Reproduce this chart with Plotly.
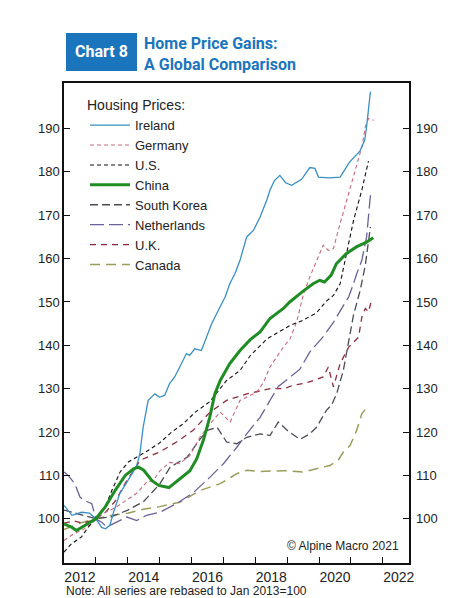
import plotly.graph_objects as go

# ---------------- data (decimal years, index Jan 2013 = 100) ----------------
ireland_x = [2012.0, 2012.25, 2012.55, 2012.8, 2013.0, 2013.18, 2013.3, 2013.44, 2013.54, 2013.75, 2014.0,
             2014.27, 2014.38, 2014.48, 2014.64, 2014.85, 2015.0, 2015.16, 2015.31, 2015.47, 2015.63, 2015.84,
             2015.94, 2016.1, 2016.31, 2016.47, 2016.63, 2016.84, 2017.05, 2017.2, 2017.36, 2017.52, 2017.73,
             2017.94, 2018.15, 2018.36, 2018.46, 2018.6, 2018.77, 2018.95, 2019.14, 2019.45, 2019.71, 2019.87,
             2019.98, 2020.3, 2020.66, 2020.96, 2021.28, 2021.43, 2021.49, 2021.61]
ireland_y = [103.1, 100.8, 101.5, 101.3, 100.0, 98.0, 97.7, 98.5, 101.2, 105.8, 108.8,
             112.0, 115.0, 121.0, 127.3, 128.8, 128.0, 128.5, 131.2, 132.7, 135.0, 138.1,
             137.7, 139.2, 138.8, 141.9, 145.0, 148.1, 151.1, 154.2, 156.5, 159.6, 165.0,
             166.5, 169.6, 173.5, 175.8, 178.0, 179.2, 177.5, 176.9, 178.3, 181.0, 180.8,
             178.8, 178.6, 178.8, 182.3, 184.8, 187.3, 190.4, 198.5]

germany_x = [2012.0, 2012.3, 2012.6, 2012.85, 2013.0, 2013.3, 2013.6, 2014.0, 2014.3, 2014.6, 2014.8, 2015.0,
             2015.32, 2015.63, 2015.95, 2016.26, 2016.58, 2016.9, 2017.21, 2017.52, 2018.05, 2018.26, 2018.46,
             2018.88, 2019.09, 2019.3, 2019.5, 2019.71, 2019.92, 2020.13, 2020.29, 2020.45, 2020.66, 2020.87,
             2021.08, 2021.24, 2021.35, 2021.45, 2021.55, 2021.71]
germany_y = [95.0, 96.5, 97.5, 98.8, 100.0, 101.5, 102.5, 104.5, 106.0, 108.5, 108.8, 111.0,
             113.0, 112.7, 114.6, 118.8, 121.9, 124.6, 122.3, 127.3, 129.2, 131.5, 135.0,
             139.6, 141.5, 145.5, 151.5, 155.8, 159.6, 163.1, 161.9, 162.3, 168.1, 173.5,
             178.8, 182.7, 186.0, 190.4, 192.3, 191.9]

us_x = [2012.0, 2012.23, 2012.55, 2012.76, 2013.0, 2013.29, 2013.5, 2013.76, 2014.02, 2014.39, 2014.65, 2015.0,
        2015.38, 2015.74, 2016.1, 2016.57, 2017.1, 2017.52, 2017.85, 2018.37, 2018.7, 2019.09, 2019.5, 2019.92,
        2020.23, 2020.45, 2020.66, 2020.87, 2021.08, 2021.34, 2021.55]
us_y = [92.3, 94.2, 95.8, 98.1, 100.0, 102.7, 106.5, 110.8, 113.1, 114.6, 115.8, 117.5,
        120.0, 121.9, 124.5, 127.0, 131.9, 134.2, 137.7, 141.5, 143.0, 144.6, 145.8, 147.5,
        150.2, 151.5, 154.2, 161.9, 168.8, 175.8, 182.5]

china_x = [2012.0, 2012.23, 2012.39, 2012.65, 2013.0, 2013.29, 2013.6, 2013.92, 2014.18, 2014.34, 2014.5, 2014.76,
           2014.97, 2015.29, 2015.63, 2015.95, 2016.16, 2016.37, 2016.57, 2016.73, 2016.9, 2017.2, 2017.52, 2017.84,
           2018.15, 2018.46, 2018.88, 2019.08, 2019.5, 2019.81, 2020.02, 2020.17, 2020.38, 2020.54, 2020.86,
           2021.17, 2021.49, 2021.7]
china_y = [98.8, 98.1, 97.3, 98.5, 100.0, 102.7, 106.5, 110.0, 111.5, 111.9, 111.2, 108.8,
           107.7, 107.2, 109.2, 111.1, 113.8, 118.1, 123.4, 128.8, 131.9, 135.8, 138.8, 141.3,
           143.1, 146.2, 148.5, 150.0, 152.5, 154.2, 155.0, 154.6, 156.2, 158.8, 161.2,
           162.7, 163.8, 164.8]

korea_x = [2012.0, 2012.5, 2013.0, 2013.5, 2014.0, 2014.5, 2015.0, 2015.33, 2015.86, 2016.28, 2016.49, 2016.8,
           2017.1, 2017.42, 2017.73, 2018.15, 2018.46, 2018.72, 2019.0, 2019.4, 2019.71, 2019.92, 2020.23,
           2020.39, 2020.55, 2020.76, 2020.92, 2021.08, 2021.29, 2021.45, 2021.61]
korea_y = [102.0, 101.0, 100.0, 100.5, 102.0, 104.0, 108.0, 111.9, 114.2, 118.5, 120.4, 121.1,
           117.7, 117.3, 118.8, 119.6, 119.2, 122.3, 120.4, 118.3, 119.6, 121.1, 125.0,
           126.2, 128.8, 134.2, 141.0, 147.0, 152.7, 158.5, 167.3]

neth_x = [2012.0, 2012.13, 2012.34, 2012.5, 2012.65, 2012.87, 2013.0, 2013.18, 2013.34, 2013.6, 2013.97, 2014.28,
          2014.59, 2015.01, 2015.53, 2016.05, 2016.58, 2017.0, 2017.42, 2017.73, 2018.15, 2018.46, 2018.72,
          2018.98, 2019.4, 2019.71, 2020.13, 2020.45, 2020.76, 2020.93, 2021.08, 2021.18, 2021.34, 2021.49,
          2021.61]
neth_y = [110.8, 110.0, 108.1, 105.0, 104.2, 103.5, 100.0, 99.2, 98.1, 99.0, 100.4, 99.6,
          100.8, 101.5, 103.5, 106.0, 109.6, 112.7, 116.5, 119.6, 123.4, 127.3, 130.5,
          132.0, 134.5, 138.5, 142.0, 145.3, 149.0, 151.2, 154.2, 156.5, 159.6, 165.0,
          174.6]

uk_x = [2012.0, 2012.3, 2012.6, 2012.85, 2013.0, 2013.3, 2013.6, 2013.97, 2014.39, 2014.7, 2015.0, 2015.53,
        2016.05, 2016.58, 2017.1, 2017.73, 2018.46, 2018.9, 2019.19, 2019.5, 2019.8, 2020.13, 2020.29, 2020.45,
        2020.66, 2020.93, 2021.08, 2021.24, 2021.34, 2021.45, 2021.55, 2021.63]
uk_y = [99.0, 99.5, 99.0, 99.5, 100.0, 101.5, 104.0, 108.8, 113.5, 114.5, 115.4, 117.7,
        120.4, 124.6, 127.3, 128.8, 130.0, 130.0, 130.8, 131.2, 131.8, 132.7, 135.0, 130.4,
        135.8, 139.6, 140.8, 141.9, 146.5, 148.5, 147.7, 150.0]

canada_x = [2012.0, 2012.5, 2013.0, 2013.5, 2014.0, 2014.5, 2015.0, 2015.63, 2016.26, 2016.9, 2017.42, 2017.73,
            2018.16, 2018.88, 2019.51, 2019.93, 2020.34, 2020.6, 2020.76, 2020.97, 2021.18, 2021.34, 2021.55]
canada_y = [97.5, 99.0, 100.0, 100.8, 101.3, 102.2, 102.8, 103.8, 106.5, 108.1, 110.4, 111.2,
            110.9, 111.1, 110.8, 111.5, 112.3, 113.5, 115.4, 116.9, 120.4, 124.2, 126.2]

series_names = ["Ireland", "Germany", "U.S.", "China", "South Korea", "Netherlands", "U.K.", "Canada"]
year_labels = ["2012", "2014", "2016", "2018", "2020", "2022"]
y_ticks = [100, 110, 120, 130, 140, 150, 160, 170, 180, 190]

# ---------------- styling ----------------
OFF = 8  # page body margin in the browser
W, H = 475 - OFF, 598 - OFF
ML, MR, MT, MB = 64 - OFF, 66, 83 - OFF, 35
PW, PH = W - ML - MR, H - MT - MB
FONT = "Liberation Sans, Arial, sans-serif"
BLUE = "#1b75bc"

def px(x):
    return (x - OFF - ML) / PW

def py(y):
    return (H - MB - (y - OFF)) / PH

styles = [
    dict(color="#3a8fc4", width=1.3, dash="solid"),
    dict(color="#c86a7c", width=1.1, dash="4px,3px"),
    dict(color="#111111", width=1.1, dash="4px,3px"),
    dict(color="#1f8c24", width=3.0, dash="solid"),
    dict(color="#4a4a58", width=1.3, dash="8px,4px"),
    dict(color="#6c5f9c", width=1.3, dash="14px,5px"),
    dict(color="#8e2a3c", width=1.3, dash="6px,5px"),
    dict(color="#9c9c5a", width=1.5, dash="10px,6px"),
]
xs = [ireland_x, germany_x, us_x, china_x, korea_x, neth_x, uk_x, canada_x]
ys = [ireland_y, germany_y, us_y, china_y, korea_y, neth_y, uk_y, canada_y]

fig = go.Figure()
draw_order = [7, 6, 5, 4, 1, 2, 0, 3]
for i in draw_order:
    fig.add_trace(go.Scatter(x=xs[i], y=ys[i], name=series_names[i], mode="lines",
                             line=styles[i], legendrank=i + 1))

# dummy trace for right axis
fig.add_trace(go.Scatter(x=[2012], y=[100], yaxis="y2", mode="markers",
                         marker=dict(opacity=0), showlegend=False, hoverinfo="skip"))

mid_years = [int(s) + 0.5 for s in year_labels]
fig.update_layout(
    width=W, height=H,
    margin=dict(l=ML, r=MR, t=MT, b=MB),
    paper_bgcolor="white", plot_bgcolor="white",
    font=dict(family=FONT, size=13, color="#222"),
    showlegend=True,
    legend=dict(x=px(85), y=py(92), xanchor="left", yanchor="top",
                bgcolor="rgba(0,0,0,0)", borderwidth=0,
                font=dict(size=13, family=FONT, color="#222"),
                title=dict(text="Housing Prices:", font=dict(size=14, family=FONT, color="#222"), side="top"),
                tracegroupgap=0, itemwidth=40),
    xaxis=dict(range=[2012.0, 2022.82], tickmode="array", tickvals=mid_years, ticktext=year_labels,
               ticks="", showgrid=False, zeroline=False, showline=True, linecolor="#111", linewidth=1.5,
               mirror=True, automargin=False, tickfont=dict(size=14), ticklabelstandoff=0,
               minor=dict(tickmode="array", tickvals=list(range(2013, 2023)), ticks="inside",
                          ticklen=6, tickcolor="#111", tickwidth=1, showgrid=False)),
    yaxis=dict(range=[89.8, 200.5], tickmode="array", tickvals=y_ticks, ticks="inside", ticklen=6,
               tickcolor="#111", showgrid=False, zeroline=False, showline=True, linecolor="#111",
               linewidth=1.5, mirror=True, automargin=False, tickfont=dict(size=13), ticklabelstandoff=0),
    yaxis2=dict(range=[89.8, 200.5], overlaying="y", side="right", tickmode="array", tickvals=y_ticks,
                ticks="inside", ticklen=6, tickcolor="#111", showgrid=False, zeroline=False,
                showline=False, automargin=False, tickfont=dict(size=13), ticklabelstandoff=6),
)

# title block
fig.add_shape(type="rect", xref="paper", yref="paper", x0=px(66), x1=px(137), y0=py(71), y1=py(33),
              fillcolor=BLUE, line=dict(width=0), layer="above")
fig.add_annotation(text="<b>Chart 8</b>", xref="paper", yref="paper", x=px(101.5), y=py(52),
                   xanchor="center", yanchor="middle", showarrow=False,
                   font=dict(family="Roboto, Arial, sans-serif", size=16, color="white"))
fig.add_annotation(text="<b>Home Price Gains:</b>", xref="paper", yref="paper", x=px(142), y=py(43),
                   xanchor="left", yanchor="middle", showarrow=False,
                   font=dict(family="Roboto, Arial, sans-serif", size=16, color=BLUE))
fig.add_annotation(text="<b>A Global Comparison</b>", xref="paper", yref="paper", x=px(142), y=py(65),
                   xanchor="left", yanchor="middle", showarrow=False,
                   font=dict(family="Roboto, Arial, sans-serif", size=16, color=BLUE))
fig.add_annotation(text="© Alpine Macro 2021", xref="paper", yref="paper", x=px(401), y=py(546),
                   xanchor="right", yanchor="middle", showarrow=False,
                   font=dict(family=FONT, size=12, color="#222"))
fig.add_annotation(text="Note: All series are rebased to Jan 2013=100", xref="paper", yref="paper",
                   x=px(64), y=py(591), xanchor="left", yanchor="middle", showarrow=False,
                   font=dict(family=FONT, size=12, color="#222"))

fig.write_html("out.html")
